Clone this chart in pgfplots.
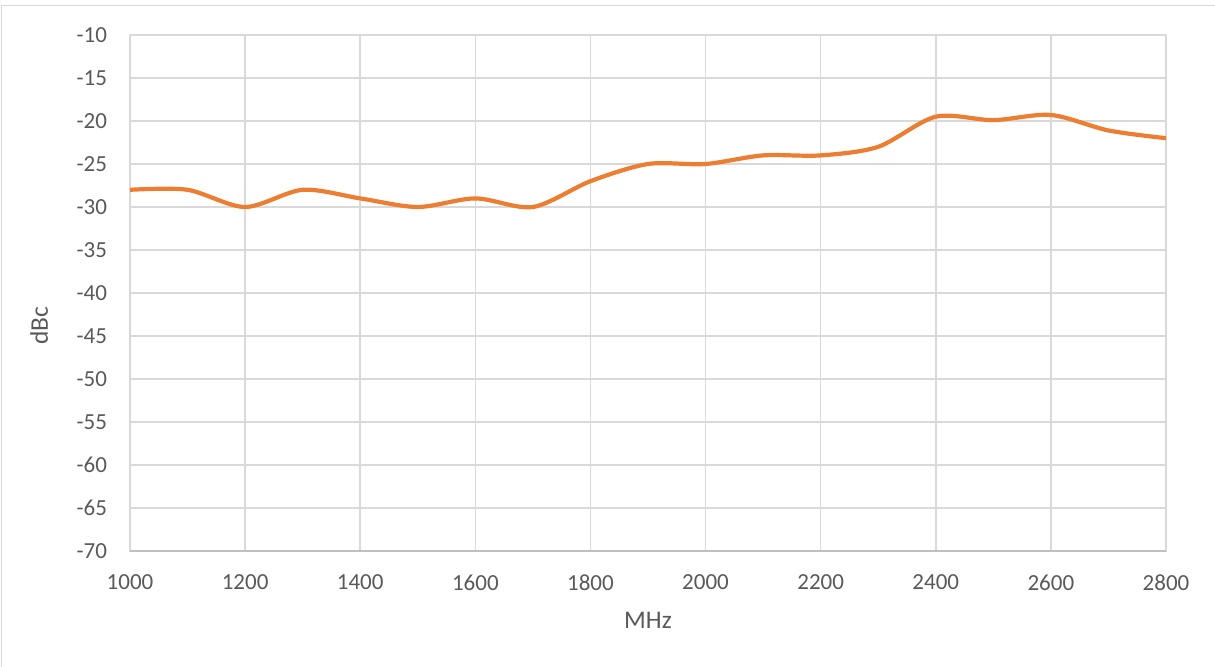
\documentclass[border=0pt]{standalone}
\usepackage{fontspec}
\setmainfont{Carlito}
\usepackage{pgfplots}
\pgfplotsset{compat=1.18}
\definecolor{lineorange}{HTML}{ED7D31}
\definecolor{gridgray}{HTML}{D9D9D9}
\definecolor{axisgray}{HTML}{BFBFBF}
\definecolor{textgray}{HTML}{595959}
\begin{document}
\fontsize{11.5pt}{14pt}\selectfont
\begin{tikzpicture}
\useasboundingbox (0,0) rectangle (607.5pt,333.5pt);
\draw[gridgray, line width=0.8pt] (0.75pt,0) -- (0.75pt,330.75pt) -- (607.5pt,330.75pt);
\begin{axis}[
  at={(65pt,58pt)}, anchor=south west,
  scale only axis, width=518pt, height=258pt,
  xmin=1000, xmax=2800, ymin=-70, ymax=-10,
  xtick={1000,1200,...,2800}, ytick={-70,-65,...,-10},
  grid=major, major grid style={gridgray, line width=0.75pt},
  axis line style={gridgray, line width=0.75pt},
  major tick length=0pt,
  tick label style={textgray, font=\fontsize{11.5pt}{14pt}\selectfont},
  /pgf/number format/assume math mode=true,
  /pgf/number format/1000 sep={},
  yticklabel style={xshift=-7.5pt},
  xticklabel style={yshift=-8pt},
  xlabel={MHz}, ylabel={dBc},
  label style={textgray, font=\fontsize{12.7pt}{15pt}\selectfont},
  xlabel style={at={(axis description cs:0.5,-0.1347)}, anchor=center},
  ylabel style={at={(axis description cs:-0.0878,0.436)}, anchor=center},
  clip=false,
]
\draw[axisgray, line width=0.8pt] (axis cs:1000,-70) -- (axis cs:2800,-70);
\addplot[lineorange, line width=2.1pt, smooth, tension=0.5] coordinates {
(1000,-28) (1100,-28) (1200,-30) (1300,-28) (1400,-29) (1500,-30)
(1600,-29) (1700,-30) (1800,-27) (1900,-25) (2000,-25) (2100,-24)
(2200,-24) (2300,-23) (2400,-19.5) (2500,-19.9) (2600,-19.3) (2700,-21.1)
(2800,-22)
};
\end{axis}
\end{tikzpicture}
\end{document}
